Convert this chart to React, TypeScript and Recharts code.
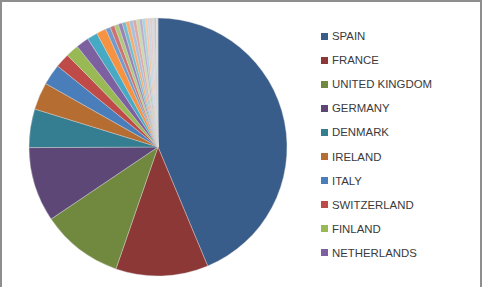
import React from "react";
import { PieChart, Pie, Cell, Legend } from "recharts";

// countries in chart order (only the first ten show in the legend)
const countries = [
  "SPAIN", "FRANCE", "UNITED KINGDOM", "GERMANY", "DENMARK",
  "IRELAND", "ITALY", "SWITZERLAND", "FINLAND", "NETHERLANDS",
  "BELGIUM", "SWEDEN", "NORWAY", "PORTUGAL", "AUSTRIA",
  "POLAND", "GREECE", "RUSSIA", "CZECH REPUBLIC", "HUNGARY",
  "LUXEMBOURG", "ICELAND", "ROMANIA", "CROATIA", "SLOVENIA",
  "SLOVAKIA", "ESTONIA", "LATVIA", "LITHUANIA", "BULGARIA",
];

// share in percent
const shares = [
  43.4, 11.5, 10.2, 9.3, 4.8,
  3.4, 2.6, 1.8, 1.6, 1.6,
  1.3, 1.2, 0.6, 0.55, 0.5,
  0.5, 0.45, 0.45, 0.45, 0.4,
  0.4, 0.35, 0.35, 0.3, 0.3,
  0.25, 0.3, 0.2, 0.15, 0.1,
];

const COLORS = [
  "#385D8A", "#8C3836", "#71893F", "#5C4776", "#357D91", "#B66D31",
  "#4A7EBB", "#BE4B48", "#98B954", "#7D60A0", "#46AAC5", "#F69240",
  "#729ACA", "#CD7371", "#AFC97A", "#9983B5", "#6FBDD1", "#F9AB6B",
  "#A7C0DE", "#DFA7A6", "#CADBA9", "#BAADCC", "#A5D4E2", "#FBC8A0",
  "#C9D6EA", "#EACAC9", "#D9D9D9", "#BFBFBF", "#E8E8E8", "#CFCFCF",
];

const LEGEND_COUNT = 10;

const data = countries.map((name, i) => ({ name, value: shares[i] }));

// recharts sorts legend items by name, so keep the data order here
function renderLegend() {
  const items = countries.slice(0, LEGEND_COUNT);
  return (
    <div>
      {items.map((name, i) => (
        <div
          key={`leg-${i}`}
          style={{ display: "flex", alignItems: "center", height: 24.1 }}
        >
          <span
            style={{
              width: 7,
              height: 7,
              background: COLORS[i],
              marginRight: 4,
              display: "inline-block",
            }}
          />
          <span
            style={{
              fontFamily: "'Liberation Sans', Arial, sans-serif",
              fontSize: 11.4,
              color: "#3a3a3a",
              lineHeight: "14px",
            }}
          >
            {name}
          </span>
        </div>
      ))}
    </div>
  );
}

export default function App() {
  return (
    <div
      style={{
        position: "absolute",
        left: 0,
        top: 0,
        width: 482,
        height: 287,
        boxSizing: "border-box",
        background: "#ffffff",
        borderTop: "2px solid #8e8e8e",
        borderLeft: "2px solid #8e8e8e",
        borderRight: "2px solid #8e8e8e",
        overflow: "hidden",
      }}
    >
      <div style={{ position: "absolute", left: -2, top: -2 }}>
        <PieChart width={482} height={287}>
          <Pie
            data={data}
            dataKey="value"
            nameKey="name"
            cx={153}
            cy={142}
            outerRadius={129}
            startAngle={90}
            endAngle={-270}
            stroke="#d8d8d8"
            strokeWidth={0.4}
            isAnimationActive={false}
          >
            {data.map((entry, index) => (
              <Cell key={`cell-${index}`} fill={COLORS[index % COLORS.length]} />
            ))}
          </Pie>
          <Legend
            layout="vertical"
            content={renderLegend}
            wrapperStyle={{ left: 321, top: 24, width: 160 }}
          />
        </PieChart>
      </div>
    </div>
  );
}
